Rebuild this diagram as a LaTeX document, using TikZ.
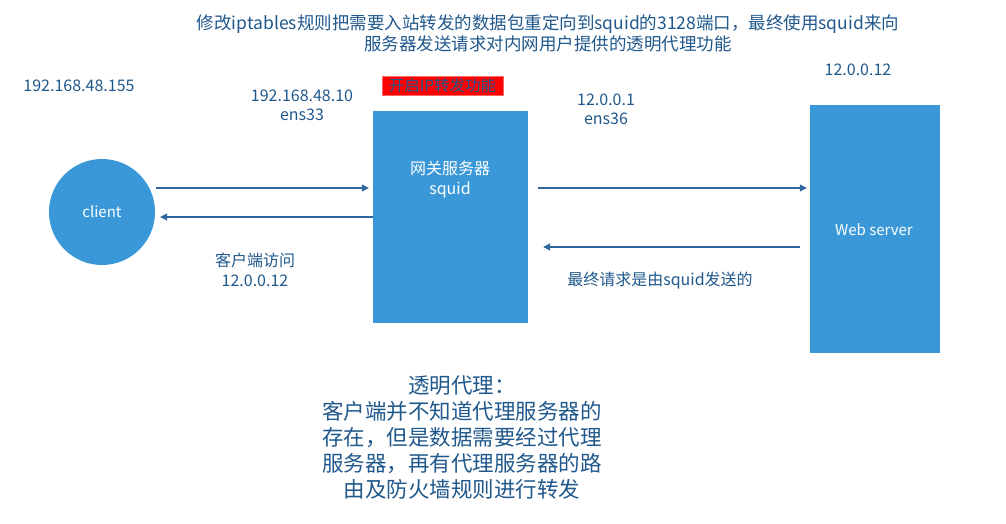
\documentclass[tikz,border=0pt]{standalone}
\usepackage{fontspec}
\setmainfont{Noto Sans CJK SC}
\usetikzlibrary{arrows.meta}

\definecolor{boxblue}{RGB}{58,152,216}
\definecolor{txtblue}{RGB}{32,88,140}
\definecolor{lineblue}{RGB}{46,104,158}

\tikzset{
  iptext/.style={text=txtblue, align=center, inner sep=0pt,
    font=\fontsize{16}{19.5}\selectfont},
  hostbox/.style={fill=boxblue, draw=none, inner sep=0pt},
  hosttext/.style={text=white, align=center, inner sep=0pt,
    font=\fontsize{15}{20}\selectfont},
  arr/.style={-{Triangle[length=7pt,width=7pt]}, color=lineblue, line width=1.1pt}
}

\begin{document}
\begin{tikzpicture}[x=1pt, y=-1pt]
        \useasboundingbox (0,0) rectangle (1006,524);

        % Title
        \node[iptext, font=\fontsize{17.5}{21}\selectfont] (title) at (548,33.5)
          {修改iptables规则把需要入站转发的数据包重定向到squid的3128端口，最终使用squid来向\\
           服务器发送请求对内网用户提供的透明代理功能};

        % Client
        \node[
          hostbox,
          circle,
          minimum size=106pt
        ] (client) at (102,212) {};
        \node[hosttext] (clienttext) at (102,212) {client};
        \node[iptext] (clientip) at (79,86) {192.168.48.155};

        % Gateway
        \node[
          hostbox,
          rectangle,
          minimum width=155pt,
          minimum height=212pt
        ] (gw) at (450.5,217) {};
        \node[hosttext, font=\fontsize{16}{20}\selectfont] (gwtext) at (450,180) {网关服务器\\squid};
        \node[
          fill=red,
          draw=red!60,
          text=txtblue,
          inner sep=0pt,
          minimum width=121pt,
          minimum height=19pt,
          font=\fontsize{15.5}{18}\selectfont
        ] (ipfwd) at (442.5,85.5) {开启IP转发功能};
        \node[iptext] (gwip1) at (302,105.5) {192.168.48.10\\ens33};
        \node[iptext] (gwip2) at (606,109.5) {12.0.0.1\\ens36};

        % Web server
        \node[
          hostbox,
          rectangle,
          minimum width=130pt,
          minimum height=248pt
        ] (web) at (875,229) {};
        \node[hosttext] (webtext) at (874,230) {Web server};
        \node[iptext] (webip) at (858,70) {12.0.0.12};

        % Connectors
        \draw[arr, shorten <=1pt, shorten >=4pt] (client.east |- 0,188) -- (gw.west |- 0,188);
        \draw[arr, shorten >=5pt] (gw.west |- 0,217) -- (client.east |- 0,217);
        \draw[arr, shorten <=10pt, shorten >=3pt] (gw.east |- 0,188) -- (web.west |- 0,188);
        \draw[arr, shorten <=10pt, shorten >=15pt] (web.west |- 0,247) -- (gw.east |- 0,247);

        % Notes
        \node[iptext] (clientnote) at (255,270) {客户端访问\\12.0.0.12};
        \node[iptext] (webnote) at (660,281) {最终请求是由squid发送的};
        \node[iptext, font=\fontsize{21.5}{25.8}\selectfont] (desc) at (462,437.5)
          {透明代理：\\客户端并不知道代理服务器的\\存在，但是数据需要经过代理\\服务器，再有代理服务器的路\\由及防火墙规则进行转发};
\end{tikzpicture}
\end{document}
